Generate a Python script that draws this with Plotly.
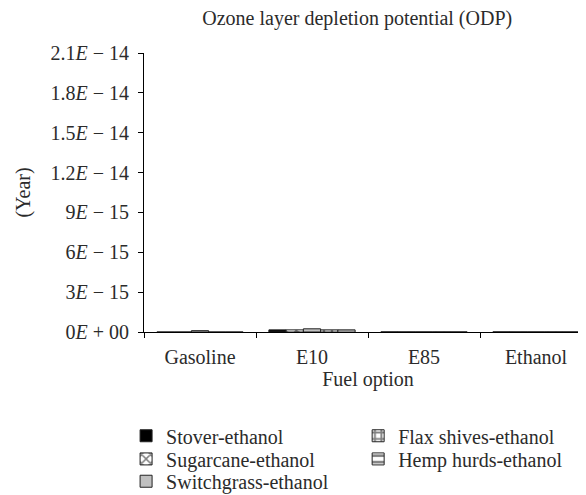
import plotly.graph_objects as go

fuels = ["Gasoline", "E10", "E85", "Ethanol"]
series = ["Stover-ethanol", "Sugarcane-ethanol", "Switchgrass-ethanol",
          "Flax shives-ethanol", "Hemp hurds-ethanol"]
values = {
    "Stover-ethanol":      [0.0, 1.6e-16, 1.0e-17, 1.0e-17],
    "Sugarcane-ethanol":   [0.0, 1.6e-16, 1.0e-17, 1.0e-17],
    "Switchgrass-ethanol": [1.0e-16, 2.4e-16, 1.0e-17, 1.0e-17],
    "Flax shives-ethanol": [0.0, 1.6e-16, 1.0e-17, 1.0e-17],
    "Hemp hurds-ethanol":  [0.0, 1.6e-16, 1.0e-17, 1.0e-17],
}
tick_vals = [0, 3e-15, 6e-15, 9e-15, 1.2e-14, 1.5e-14, 1.8e-14, 2.1e-14]
tick_text = ["0<i>E</i> + 00", "3<i>E</i> − 15", "6<i>E</i> − 15", "9<i>E</i> − 15",
             "1.2<i>E</i> − 14", "1.5<i>E</i> − 14", "1.8<i>E</i> − 14", "2.1<i>E</i> − 14"]

styles = {
    "Stover-ethanol":      dict(color="black", pattern=dict(shape="")),
    "Sugarcane-ethanol":   dict(color="white", pattern=dict(shape="x", fgcolor="black", size=8, solidity=0.4)),
    "Switchgrass-ethanol": dict(color="#c0c0c0", pattern=dict(shape="")),
    "Flax shives-ethanol": dict(color="white", pattern=dict(shape="+", fgcolor="black", size=8, solidity=0.5)),
    "Hemp hurds-ethanol":  dict(color="white", pattern=dict(shape="-", fgcolor="black", size=8, solidity=0.4)),
}
# one legend per entry so the rows can sit as tight as in the original
legend_pos = {
    "Stover-ethanol":      ("legend6", -0.04, -0.302),
    "Sugarcane-ethanol":   ("legend2", -0.04, -0.385),
    "Switchgrass-ethanol": ("legend3", -0.04, -0.465),
    "Flax shives-ethanol": ("legend4", 0.478, -0.302),
    "Hemp hurds-ethanol":  ("legend5", 0.478, -0.385),
}

FONT = "Liberation Serif"
TXT = "#2b2b2b"

fig = go.Figure()
for s in series:
    st = styles[s]
    fig.add_trace(go.Bar(name=s, x=fuels, y=values[s], legend=legend_pos[s][0],
                         showlegend=True,
                         marker=dict(color=st["color"], pattern=st["pattern"],
                                     line=dict(color="#222222", width=1))))

fig.update_layout(
    width=586, height=495,
    margin=dict(l=136, r=2, t=45, b=162),
    barmode="group", bargap=0.23, bargroupgap=0,
    plot_bgcolor="white", paper_bgcolor="white",
    showlegend=True,
    font=dict(family=FONT, size=20, color=TXT),
    title=dict(text="Ozone layer depletion potential (ODP)", x=0.596, xanchor="center",
               y=0.98, yanchor="middle", font=dict(size=20, color=TXT)),
)
for s in series:
    name, lx, ly = legend_pos[s]
    fig.update_layout({name: dict(x=lx, y=ly, xanchor="left", yanchor="top",
                                  bgcolor="rgba(0,0,0,0)", font=dict(size=20, color=TXT))})

fig.update_xaxes(showline=True, linecolor="black", linewidth=1, ticks="outside",
                 tickson="boundaries", ticklen=5, tickcolor="black",
                 tickfont=dict(size=20), ticklabelstandoff=7,
                 title=dict(text="Fuel option", standoff=3, font=dict(size=20)), showgrid=False)
fig.update_yaxes(showline=True, linecolor="black", linewidth=1, ticks="outside",
                 ticklen=5, tickcolor="black", range=[0, 2.1e-14],
                 tickfont=dict(size=20), ticklabelstandoff=5,
                 tickvals=tick_vals, ticktext=tick_text, showgrid=False, zeroline=False,
                 title=dict(text="(Year)", standoff=14, font=dict(size=20)))

fig.write_html("out.html")
